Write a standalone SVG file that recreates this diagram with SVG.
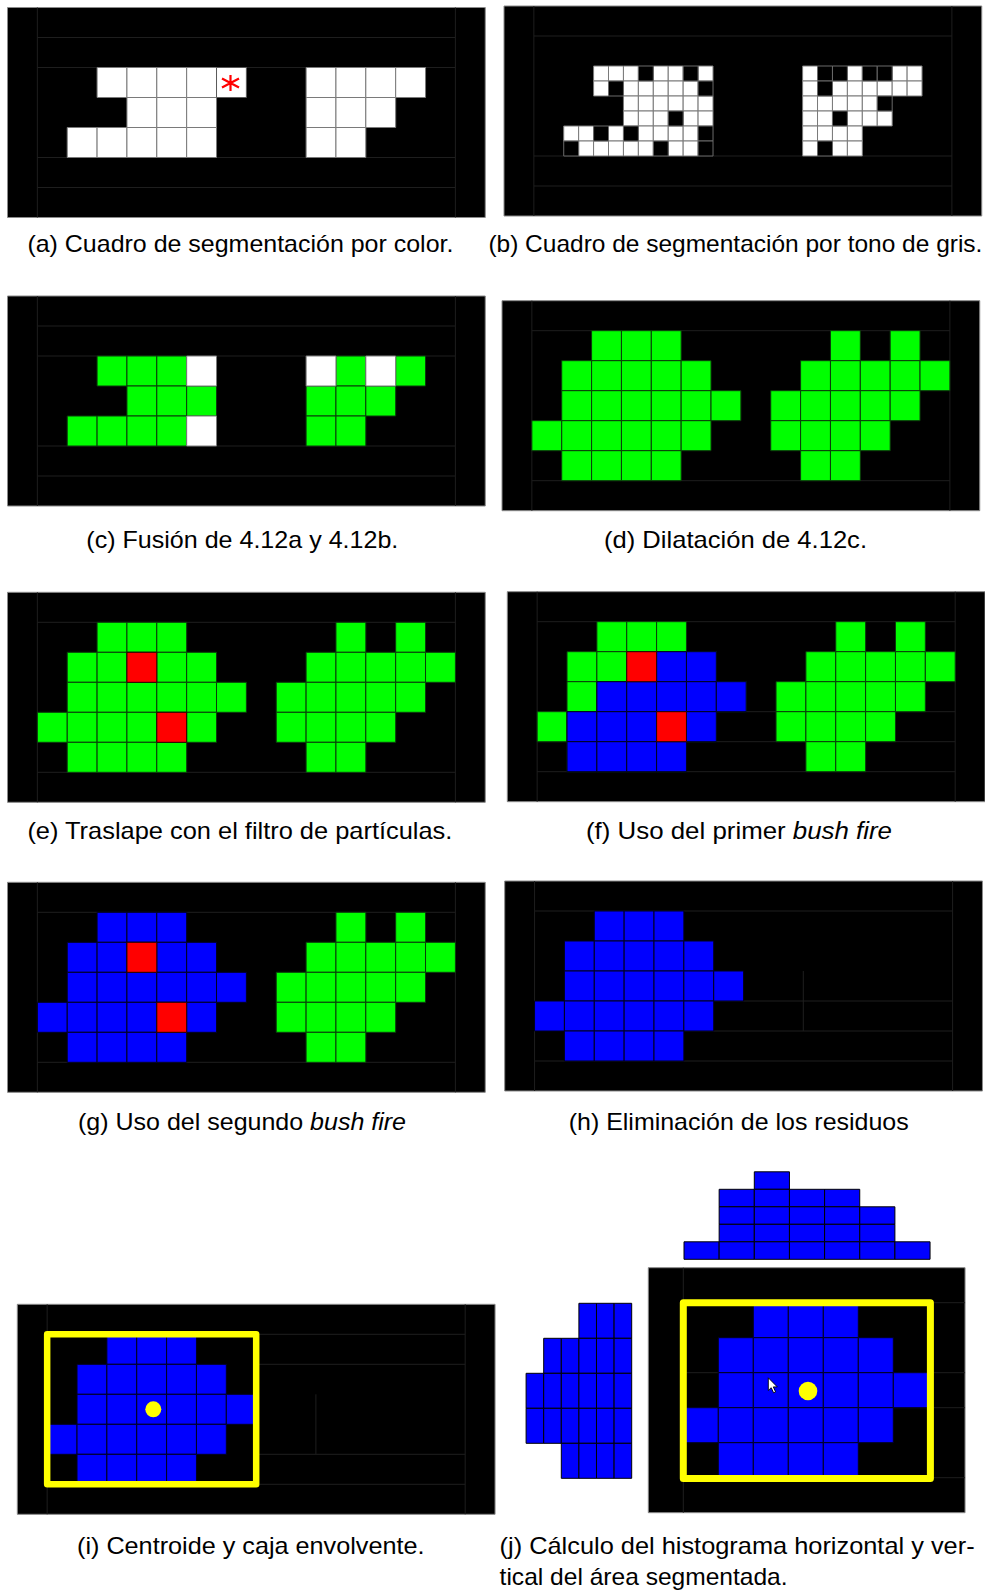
<svg xmlns="http://www.w3.org/2000/svg" width="985" height="1592" viewBox="0 0 985 1592">
<style>
rect,line{vector-effect:non-scaling-stroke}
.bg{fill:#000;stroke:#8a8a8a;stroke-width:1}
.gl{stroke:#1e1e1e;stroke-width:1;fill:none}
.w{fill:#fff;stroke:#7a7a7a;stroke-width:1}
.k{fill:#000;stroke:#6a6a6a;stroke-width:1}
.g{fill:#00ff00;stroke:#0b3a0b;stroke-width:1}
.b{fill:#0000ff;stroke:#00001e;stroke-width:1}
.r{fill:#ff0000;stroke:#2a0000;stroke-width:1}
.yb{fill:none;stroke:#ffff00;stroke-width:6.5;stroke-linejoin:round}
.hb{fill:#0000ff;stroke:#000;stroke-width:1}
.cap{font-family:"Liberation Sans",Arial,sans-serif;font-size:24px;fill:#000}
.it{font-style:italic}
</style>
<defs>
<g id="leftShape">
<rect x="3" y="1" width="1" height="1"/><rect x="4" y="1" width="1" height="1"/><rect x="5" y="1" width="1" height="1"/>
<rect x="2" y="2" width="1" height="1"/><rect x="3" y="2" width="1" height="1"/><rect x="4" y="2" width="1" height="1"/><rect x="5" y="2" width="1" height="1"/><rect x="6" y="2" width="1" height="1"/>
<rect x="2" y="3" width="1" height="1"/><rect x="3" y="3" width="1" height="1"/><rect x="4" y="3" width="1" height="1"/><rect x="5" y="3" width="1" height="1"/><rect x="6" y="3" width="1" height="1"/><rect x="7" y="3" width="1" height="1"/>
<rect x="1" y="4" width="1" height="1"/><rect x="2" y="4" width="1" height="1"/><rect x="3" y="4" width="1" height="1"/><rect x="4" y="4" width="1" height="1"/><rect x="5" y="4" width="1" height="1"/><rect x="6" y="4" width="1" height="1"/>
<rect x="2" y="5" width="1" height="1"/><rect x="3" y="5" width="1" height="1"/><rect x="4" y="5" width="1" height="1"/><rect x="5" y="5" width="1" height="1"/>
</g>
<g id="rightShape">
<rect x="11" y="1" width="1" height="1"/><rect x="13" y="1" width="1" height="1"/>
<rect x="10" y="2" width="1" height="1"/><rect x="11" y="2" width="1" height="1"/><rect x="12" y="2" width="1" height="1"/><rect x="13" y="2" width="1" height="1"/><rect x="14" y="2" width="1" height="1"/>
<rect x="9" y="3" width="1" height="1"/><rect x="10" y="3" width="1" height="1"/><rect x="11" y="3" width="1" height="1"/><rect x="12" y="3" width="1" height="1"/><rect x="13" y="3" width="1" height="1"/>
<rect x="9" y="4" width="1" height="1"/><rect x="10" y="4" width="1" height="1"/><rect x="11" y="4" width="1" height="1"/><rect x="12" y="4" width="1" height="1"/>
<rect x="10" y="5" width="1" height="1"/><rect x="11" y="5" width="1" height="1"/>
</g>
<g id="frame">
<rect class="bg" width="16" height="7"/>
<line class="gl" x1="1" y1="0" x2="1" y2="7"/><line class="gl" x1="15" y1="0" x2="15" y2="7"/>
<line class="gl" x1="1" y1="1" x2="15" y2="1"/><line class="gl" x1="1" y1="6" x2="15" y2="6"/>
</g>
</defs>

<!-- (a) -->
<g id="panel-a" transform="translate(7.5,7.5) scale(29.86,30)">
<use href="#frame"/>
<line class="gl" x1="1" y1="2" x2="15" y2="2"/><line class="gl" x1="1" y1="5" x2="15" y2="5"/>
<g class="w">
<rect x="3" y="2" width="1" height="1"/><rect x="4" y="2" width="1" height="1"/><rect x="5" y="2" width="1" height="1"/><rect x="6" y="2" width="1" height="1"/>
<rect x="4" y="3" width="1" height="1"/><rect x="5" y="3" width="1" height="1"/><rect x="6" y="3" width="1" height="1"/>
<rect x="2" y="4" width="1" height="1"/><rect x="3" y="4" width="1" height="1"/><rect x="4" y="4" width="1" height="1"/><rect x="5" y="4" width="1" height="1"/><rect x="6" y="4" width="1" height="1"/>
<rect x="10" y="2" width="1" height="1"/><rect x="11" y="2" width="1" height="1"/><rect x="12" y="2" width="1" height="1"/><rect x="13" y="2" width="1" height="1"/>
<rect x="10" y="3" width="1" height="1"/><rect x="11" y="3" width="1" height="1"/><rect x="12" y="3" width="1" height="1"/>
<rect x="10" y="4" width="1" height="1"/><rect x="11" y="4" width="1" height="1"/>
<rect x="7" y="2" width="1" height="1" style="stroke:#5a5a5a"/>
</g>
</g>
<path id="asterisk" d="M230.5,75 V91 M222,78.6 L239,87.4 M222,87.4 L239,78.6" fill="none" stroke="#ff0000" stroke-width="2.2"/>

<!-- (b) -->
<g id="panel-b" transform="translate(504,6) scale(29.86,30)">
<use href="#frame"/>
<line class="gl" x1="1" y1="5" x2="15" y2="5"/>
<g transform="translate(2,2) scale(0.5)">
<g class="w">
<rect x="2" y="0" width="1" height="1"/><rect x="3" y="0" width="1" height="1"/><rect x="4" y="0" width="1" height="1"/><rect x="6" y="0" width="1" height="1"/><rect x="7" y="0" width="1" height="1"/><rect x="9" y="0" width="1" height="1"/>
<rect x="2" y="1" width="1" height="1"/><rect x="4" y="1" width="1" height="1"/><rect x="5" y="1" width="1" height="1"/><rect x="6" y="1" width="1" height="1"/><rect x="7" y="1" width="1" height="1"/><rect x="8" y="1" width="1" height="1"/>
<rect x="4" y="2" width="1" height="1"/><rect x="5" y="2" width="1" height="1"/><rect x="6" y="2" width="1" height="1"/><rect x="7" y="2" width="1" height="1"/><rect x="8" y="2" width="1" height="1"/><rect x="9" y="2" width="1" height="1"/>
<rect x="4" y="3" width="1" height="1"/><rect x="5" y="3" width="1" height="1"/><rect x="6" y="3" width="1" height="1"/><rect x="8" y="3" width="1" height="1"/><rect x="9" y="3" width="1" height="1"/>
<rect x="0" y="4" width="1" height="1"/><rect x="1" y="4" width="1" height="1"/><rect x="3" y="4" width="1" height="1"/><rect x="5" y="4" width="1" height="1"/><rect x="6" y="4" width="1" height="1"/><rect x="7" y="4" width="1" height="1"/><rect x="8" y="4" width="1" height="1"/>
<rect x="1" y="5" width="1" height="1"/><rect x="2" y="5" width="1" height="1"/><rect x="3" y="5" width="1" height="1"/><rect x="4" y="5" width="1" height="1"/><rect x="5" y="5" width="1" height="1"/><rect x="7" y="5" width="1" height="1"/><rect x="8" y="5" width="1" height="1"/>
</g>
<g class="k">
<rect x="5" y="0" width="1" height="1"/><rect x="8" y="0" width="1" height="1"/>
<rect x="3" y="1" width="1" height="1"/><rect x="9" y="1" width="1" height="1"/>
<rect x="7" y="3" width="1" height="1"/>
<rect x="2" y="4" width="1" height="1"/><rect x="4" y="4" width="1" height="1"/><rect x="9" y="4" width="1" height="1"/>
<rect x="0" y="5" width="1" height="1"/><rect x="6" y="5" width="1" height="1"/><rect x="9" y="5" width="1" height="1"/>
</g>
</g>
<g transform="translate(10,2) scale(0.5)">
<g class="w">
<rect x="0" y="0" width="1" height="1"/><rect x="3" y="0" width="1" height="1"/><rect x="6" y="0" width="1" height="1"/><rect x="7" y="0" width="1" height="1"/>
<rect x="0" y="1" width="1" height="1"/><rect x="2" y="1" width="1" height="1"/><rect x="3" y="1" width="1" height="1"/><rect x="4" y="1" width="1" height="1"/><rect x="5" y="1" width="1" height="1"/><rect x="6" y="1" width="1" height="1"/><rect x="7" y="1" width="1" height="1"/>
<rect x="0" y="2" width="1" height="1"/><rect x="1" y="2" width="1" height="1"/><rect x="2" y="2" width="1" height="1"/><rect x="3" y="2" width="1" height="1"/><rect x="4" y="2" width="1" height="1"/>
<rect x="0" y="3" width="1" height="1"/><rect x="1" y="3" width="1" height="1"/><rect x="3" y="3" width="1" height="1"/><rect x="4" y="3" width="1" height="1"/><rect x="5" y="3" width="1" height="1"/>
<rect x="0" y="4" width="1" height="1"/><rect x="1" y="4" width="1" height="1"/><rect x="2" y="4" width="1" height="1"/><rect x="3" y="4" width="1" height="1"/>
<rect x="0" y="5" width="1" height="1"/><rect x="2" y="5" width="1" height="1"/><rect x="3" y="5" width="1" height="1"/>
</g>
<g class="k">
<rect x="1" y="0" width="1" height="1"/><rect x="2" y="0" width="1" height="1"/><rect x="4" y="0" width="1" height="1"/><rect x="5" y="0" width="1" height="1"/>
<rect x="1" y="1" width="1" height="1"/>
<rect x="5" y="2" width="1" height="1"/>
<rect x="2" y="3" width="1" height="1"/>
<rect x="1" y="5" width="1" height="1"/>
</g>
</g>
</g>

<!-- (c) -->
<g id="panel-c" transform="translate(7.5,296) scale(29.86,30)">
<use href="#frame"/>
<line class="gl" x1="1" y1="2" x2="15" y2="2"/><line class="gl" x1="1" y1="5" x2="15" y2="5"/>
<g class="g">
<rect x="3" y="2" width="1" height="1"/><rect x="4" y="2" width="1" height="1"/><rect x="5" y="2" width="1" height="1"/>
<rect x="4" y="3" width="1" height="1"/><rect x="5" y="3" width="1" height="1"/><rect x="6" y="3" width="1" height="1"/>
<rect x="2" y="4" width="1" height="1"/><rect x="3" y="4" width="1" height="1"/><rect x="4" y="4" width="1" height="1"/><rect x="5" y="4" width="1" height="1"/>
<rect x="11" y="2" width="1" height="1"/><rect x="13" y="2" width="1" height="1"/>
<rect x="10" y="3" width="1" height="1"/><rect x="11" y="3" width="1" height="1"/><rect x="12" y="3" width="1" height="1"/>
<rect x="10" y="4" width="1" height="1"/><rect x="11" y="4" width="1" height="1"/>
</g>
<g class="w">
<rect x="6" y="2" width="1" height="1"/><rect x="6" y="4" width="1" height="1"/>
<rect x="10" y="2" width="1" height="1"/><rect x="12" y="2" width="1" height="1"/>
</g>
</g>

<!-- (d) -->
<g id="panel-d" transform="translate(502,300.7) scale(29.86,30)">
<use href="#frame"/>
<use href="#leftShape" class="g"/>
<use href="#rightShape" class="g"/>
</g>

<!-- (e) -->
<g id="panel-e" transform="translate(7.5,592.3) scale(29.86,30)">
<use href="#frame"/>
<use href="#leftShape" class="g"/>
<use href="#rightShape" class="g"/>
<g class="r"><rect x="4" y="2" width="1" height="1"/><rect x="5" y="4" width="1" height="1"/></g>
</g>

<!-- (f) -->
<g id="panel-f" transform="translate(507.3,591.7) scale(29.86,30)">
<use href="#frame"/>
<line class="gl" x1="1" y1="4" x2="15" y2="4"/><line class="gl" x1="1" y1="5" x2="15" y2="5"/>
<use href="#leftShape" class="g"/>
<use href="#rightShape" class="g"/>
<g class="b">
<rect x="5" y="2" width="1" height="1"/><rect x="6" y="2" width="1" height="1"/>
<rect x="3" y="3" width="1" height="1"/><rect x="4" y="3" width="1" height="1"/><rect x="5" y="3" width="1" height="1"/><rect x="6" y="3" width="1" height="1"/><rect x="7" y="3" width="1" height="1"/>
<rect x="2" y="4" width="1" height="1"/><rect x="3" y="4" width="1" height="1"/><rect x="4" y="4" width="1" height="1"/><rect x="6" y="4" width="1" height="1"/>
<rect x="2" y="5" width="1" height="1"/><rect x="3" y="5" width="1" height="1"/><rect x="4" y="5" width="1" height="1"/><rect x="5" y="5" width="1" height="1"/>
</g>
<g class="r"><rect x="4" y="2" width="1" height="1"/><rect x="5" y="4" width="1" height="1"/></g>
</g>

<!-- (g) -->
<g id="panel-g" transform="translate(7.5,882.3) scale(29.86,30)">
<use href="#frame"/>
<use href="#leftShape" class="b"/>
<use href="#rightShape" class="g"/>
<g class="r"><rect x="4" y="2" width="1" height="1"/><rect x="5" y="4" width="1" height="1"/></g>
</g>

<!-- (h) -->
<g id="panel-h" transform="translate(504.7,881) scale(29.86,30)">
<use href="#frame"/>
<line class="gl" x1="6" y1="4" x2="15" y2="4"/><line class="gl" x1="5" y1="5" x2="15" y2="5"/>
<line class="gl" x1="10" y1="3" x2="10" y2="5"/>
<use href="#leftShape" class="b"/>
</g>

<!-- (i) -->
<g id="panel-i" transform="translate(17.3,1304.3) scale(29.86,30)">
<use href="#frame"/>
<line class="gl" x1="8" y1="2" x2="15" y2="2"/><line class="gl" x1="8" y1="5" x2="15" y2="5"/>
<line class="gl" x1="10" y1="3" x2="10" y2="5"/>
<use href="#leftShape" class="b"/>
<rect class="yb" x="1" y="1" width="7" height="5"/>
</g>
<circle id="centroid-i" cx="153.3" cy="1409.3" r="8" fill="#ffff00"/>

<!-- (j) -->
<g id="panel-j" transform="translate(648.3,1267.7) scale(35)">
<rect class="bg" width="9.05" height="7"/>
<line class="gl" x1="1" y1="0" x2="1" y2="7"/>
<line class="gl" x1="1" y1="1" x2="9.05" y2="1"/><line class="gl" x1="1" y1="3" x2="9.05" y2="3"/><line class="gl" x1="1" y1="4" x2="9.05" y2="4"/><line class="gl" x1="1" y1="6" x2="9.05" y2="6"/>
<use href="#leftShape" class="b"/>
<rect class="yb" x="1" y="1" width="7.06" height="5.02" style="stroke-width:7"/>
</g>
<circle id="centroid-j" cx="808" cy="1391" r="9.3" fill="#ffff00"/>
<path id="cursor" d="M768.3,1377.8 V1390.5 L771.2,1387.7 L773.6,1392.8 L775.6,1391.9 L773.3,1386.9 L777.3,1386.9 Z" fill="#fff" stroke="#000" stroke-width="0.9" stroke-linejoin="round"/>

<g id="hist-top" transform="translate(684,1171.8) scale(35.15,17.5)" class="hb">
<rect x="0" y="4" width="1" height="1"/>
<rect x="1" y="1" width="1" height="1"/><rect x="1" y="2" width="1" height="1"/><rect x="1" y="3" width="1" height="1"/><rect x="1" y="4" width="1" height="1"/>
<rect x="2" y="0" width="1" height="1"/><rect x="2" y="1" width="1" height="1"/><rect x="2" y="2" width="1" height="1"/><rect x="2" y="3" width="1" height="1"/><rect x="2" y="4" width="1" height="1"/>
<rect x="3" y="1" width="1" height="1"/><rect x="3" y="2" width="1" height="1"/><rect x="3" y="3" width="1" height="1"/><rect x="3" y="4" width="1" height="1"/>
<rect x="4" y="1" width="1" height="1"/><rect x="4" y="2" width="1" height="1"/><rect x="4" y="3" width="1" height="1"/><rect x="4" y="4" width="1" height="1"/>
<rect x="5" y="2" width="1" height="1"/><rect x="5" y="3" width="1" height="1"/><rect x="5" y="4" width="1" height="1"/>
<rect x="6" y="4" width="1" height="1"/>
</g>

<g id="hist-left" transform="translate(526.1,1303.3) scale(17.6,35)" class="hb">
<rect x="3" y="0" width="1" height="1"/><rect x="4" y="0" width="1" height="1"/><rect x="5" y="0" width="1" height="1"/>
<rect x="1" y="1" width="1" height="1"/><rect x="2" y="1" width="1" height="1"/><rect x="3" y="1" width="1" height="1"/><rect x="4" y="1" width="1" height="1"/><rect x="5" y="1" width="1" height="1"/>
<rect x="0" y="2" width="1" height="1"/><rect x="1" y="2" width="1" height="1"/><rect x="2" y="2" width="1" height="1"/><rect x="3" y="2" width="1" height="1"/><rect x="4" y="2" width="1" height="1"/><rect x="5" y="2" width="1" height="1"/>
<rect x="0" y="3" width="1" height="1"/><rect x="1" y="3" width="1" height="1"/><rect x="2" y="3" width="1" height="1"/><rect x="3" y="3" width="1" height="1"/><rect x="4" y="3" width="1" height="1"/><rect x="5" y="3" width="1" height="1"/>
<rect x="2" y="4" width="1" height="1"/><rect x="3" y="4" width="1" height="1"/><rect x="4" y="4" width="1" height="1"/><rect x="5" y="4" width="1" height="1"/>
</g>

<!-- captions -->
<g id="captions" class="cap">
<text x="27.4" y="252" textLength="426" lengthAdjust="spacingAndGlyphs">(a) Cuadro de segmentación por color.</text>
<text x="488.4" y="252" textLength="494" lengthAdjust="spacingAndGlyphs">(b) Cuadro de segmentación por tono de gris.</text>
<text x="86.3" y="548" textLength="312" lengthAdjust="spacingAndGlyphs">(c) Fusión de 4.12a y 4.12b.</text>
<text x="604" y="548" textLength="263" lengthAdjust="spacingAndGlyphs">(d) Dilatación de 4.12c.</text>
<text x="27.4" y="838.5" textLength="425" lengthAdjust="spacingAndGlyphs">(e) Traslape con el filtro de partículas.</text>
<text x="586" y="838.5" textLength="306" lengthAdjust="spacingAndGlyphs">(f) Uso del primer <tspan class="it">bush fire</tspan></text>
<text x="78" y="1130" textLength="328" lengthAdjust="spacingAndGlyphs">(g) Uso del segundo <tspan class="it">bush fire</tspan></text>
<text x="568.7" y="1130" textLength="340" lengthAdjust="spacingAndGlyphs">(h) Eliminación de los residuos</text>
<text x="77" y="1553.5" textLength="347.5" lengthAdjust="spacingAndGlyphs">(i) Centroide y caja envolvente.</text>
<text x="499.6" y="1553.5" textLength="475" lengthAdjust="spacingAndGlyphs">(j) Cálculo del histograma horizontal y ver-</text>
<text x="499.6" y="1585" textLength="288" lengthAdjust="spacingAndGlyphs">tical del área segmentada.</text>
</g>
</svg>
